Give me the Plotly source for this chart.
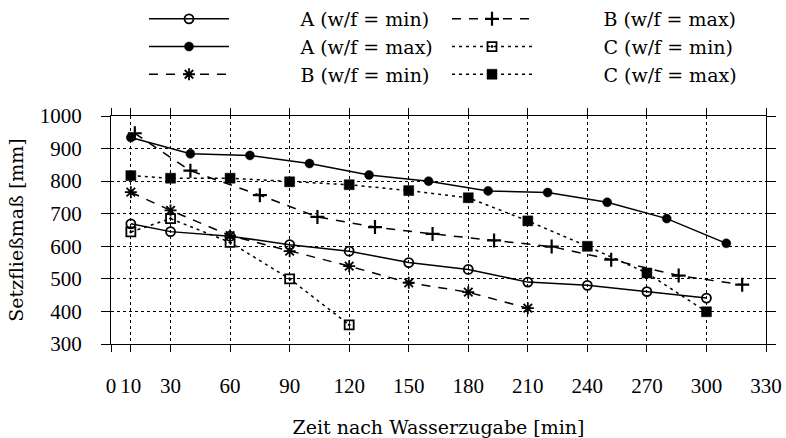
import plotly.graph_objects as go

# ---- data ----
x_A_min = [10, 30, 60, 90, 120, 150, 180, 210, 240, 270, 300]
y_A_min = [669, 645, 631, 605, 585, 550, 529, 490, 480, 461, 441]

x_A_max = [10, 40, 70, 100, 130, 160, 190, 220, 250, 280, 310]
y_A_max = [934, 884, 879, 854, 819, 800, 770, 765, 735, 685, 609]

x_B_min = [10, 30, 60, 90, 120, 150, 180, 210]
y_B_min = [766, 710, 633, 585, 539, 488, 459, 410]

x_B_max = [12, 40, 75, 104, 133, 162, 193, 222, 252, 286, 318]
y_B_max = [947, 832, 757, 690, 659, 638, 618, 599, 559, 510, 482]

x_C_min = [10, 30, 60, 90, 120]
y_C_min = [644, 685, 612, 500, 359]

x_C_max = [10, 30, 60, 90, 120, 150, 180, 210, 240, 270, 300]
y_C_max = [817, 809, 809, 798, 789, 771, 749, 678, 600, 518, 399]

x_ticks = [0, 10, 30, 60, 90, 120, 150, 180, 210, 240, 270, 300, 330]
y_ticks = [300, 400, 500, 600, 700, 800, 900, 1000]

TICKFONT = dict(family="Liberation Serif", size=21, color="black")
TEXTFONT = dict(family="DejaVu Serif", size=19, color="black")
PAD = "\u00a0" * 11

series = [
    ("A (w/f = min)", x_A_min, y_A_min, "solid", "circle-open", 9, 1.8),
    ("B (w/f = max)", x_B_max, y_B_max, "9px,8px", "cross-thin-open", 10, 2.2),
    ("A (w/f = max)", x_A_max, y_A_max, "solid", "circle", 9, 0.5),
    ("C (w/f = min)", x_C_min, y_C_min, "3px,4px", "square-open-dot", 9, 1.8),
    ("B (w/f = min)", x_B_min, y_B_min, "9px,8px", "asterisk-open", 10, 1.8),
    ("C (w/f = max)", x_C_max, y_C_max, "3px,4px", "square", 10, 0.5),
]

fig = go.Figure()
for name, xs, ys, dash, sym, sz, mlw in series:
    fig.add_trace(go.Scatter(
        x=xs, y=ys, name=PAD + name, mode="lines+markers",
        line=dict(color="black", width=1.5, dash=dash),
        marker=dict(symbol=sym, size=sz, color="black",
                    line=dict(color="black", width=mlw)),
    ))

fig.update_layout(
    width=786, height=438,
    margin=dict(l=111, r=20, t=116, b=94, autoexpand=False),
    paper_bgcolor="white", plot_bgcolor="white",
    font=TICKFONT,
    showlegend=True,
    legend=dict(
        orientation="h", xref="container", yref="container",
        x=144 / 786, y=1.0, xanchor="left", yanchor="top",
        entrywidth=208, entrywidthmode="pixels", itemwidth=80,
        font=TEXTFONT, bgcolor="rgba(0,0,0,0)",
        tracegroupgap=0,
    ),
    xaxis=dict(
        range=[0, 330], tickvals=x_ticks, ticktext=[str(v) for v in x_ticks],
        showline=True, linecolor="black", linewidth=1.2, mirror="ticks",
        ticks="outside", ticklen=7, tickcolor="black", tickwidth=1,
        showgrid=True, gridcolor="black", griddash="dot", gridwidth=1,
        zeroline=False, ticklabelstandoff=16, automargin=False,
        tickfont=TICKFONT,
        title=dict(text="Zeit nach Wasserzugabe [min]", standoff=24,
                   font=TEXTFONT),
    ),
    yaxis=dict(
        range=[300, 1000], tickvals=y_ticks,
        showline=True, linecolor="black", linewidth=1.2, mirror="ticks",
        ticks="outside", ticklen=9, tickcolor="black", tickwidth=1,
        showgrid=True, gridcolor="black", griddash="dot", gridwidth=1,
        zeroline=False, ticklabelstandoff=15, automargin=False,
        tickfont=TICKFONT,
        title=dict(text="Setzfließmaß [mm]", standoff=11, font=TEXTFONT),
    ),
)

fig.write_html("out.html")
